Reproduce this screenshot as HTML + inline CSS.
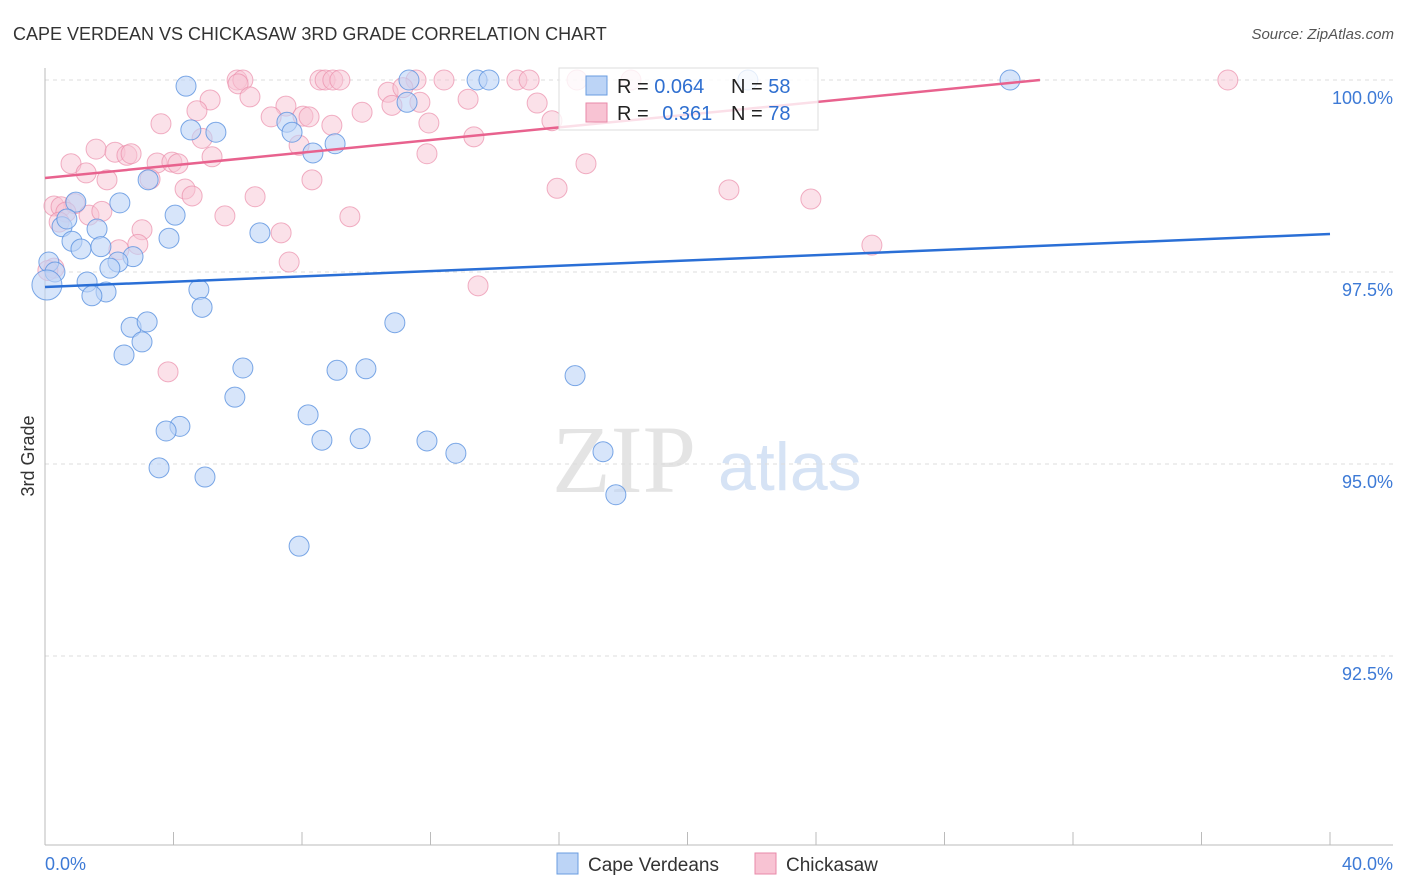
<!DOCTYPE html>
<html><head><meta charset="utf-8"><style>
body{margin:0;background:#fff;font-family:"Liberation Sans",sans-serif}
svg{display:block}
</style></head><body>
<svg id="chart" width="1406" height="892">
<text x="13" y="40" font-size="18" fill="#333">CAPE VERDEAN VS CHICKASAW 3RD GRADE CORRELATION CHART</text>
<text x="1394" y="39" font-size="15" fill="#555" text-anchor="end" font-style="italic">Source: ZipAtlas.com</text>
<text x="34" y="456" font-size="18" fill="#333" text-anchor="middle" transform="rotate(-90 34 456)">3rd Grade</text>
<g>
<text x="552" y="492" font-size="96" font-family="Liberation Serif,serif" fill="#e4e4e4">ZIP</text>
<text x="718" y="490" font-size="68" fill="#d6e3f5">atlas</text>
</g>
<g id="grid"></g><g id="axes"></g><g id="pts"></g><g id="lines"></g>
<g>
<rect x="559" y="68" width="259" height="62" fill="#fff" fill-opacity="0.8" stroke="#ddd"/>
<rect x="586" y="76" width="21" height="19" fill="#bcd4f6" stroke="#6a9de0"/>
<rect x="586" y="103" width="21" height="19" fill="#f8c3d3" stroke="#e88aa8"/>
<text x="617" y="93" font-size="20" fill="#222">R = <tspan fill="#2f6fd0">0.064</tspan></text>
<text x="731" y="93" font-size="20" fill="#222">N = <tspan fill="#2f6fd0">58</tspan></text>
<text x="617" y="120" font-size="20" fill="#222">R = <tspan fill="#2f6fd0" dx="8">0.361</tspan></text>
<text x="731" y="120" font-size="20" fill="#222">N = <tspan fill="#2f6fd0">78</tspan></text>
</g>
<g>
<rect x="557" y="853" width="21" height="21" fill="#bcd4f6" stroke="#6a9de0"/>
<text x="588" y="871" font-size="19" fill="#333">Cape Verdeans</text>
<rect x="755" y="853" width="21" height="21" fill="#f8c3d3" stroke="#e88aa8"/>
<text x="786" y="871" font-size="19" fill="#333">Chickasaw</text>
</g>
</svg>
<script>
const yTicks=[100,97.5,95,92.5];
const yTickLabels=["100.0%","97.5%","95.0%","92.5%"];
const xLabels=["0.0%","40.0%"];
const blueX=[4.39,11.33,13.45,13.82,21.88,30.04,11.27,4.54,5.32,7.53,7.69,8.34,9.03,3.21,0.96,2.33,0.53,0.68,1.62,4.05,0.84,1.12,1.74,3.86,6.69,2.74,2.27,2.02,0.12,0.31,0.06,1.31,1.90,1.46,4.79,4.89,2.68,3.18,3.02,10.89,2.46,6.16,9.09,9.99,16.50,5.91,8.19,4.20,3.77,8.62,9.81,11.89,12.79,17.37,3.55,4.98,17.77,7.91];
const blueY=[99.92,100,100,100,100,100,99.71,99.35,99.32,99.45,99.32,99.05,99.17,98.70,98.41,98.40,98.09,98.19,98.06,98.24,97.90,97.80,97.83,97.94,98.01,97.70,97.63,97.55,97.63,97.50,97.33,97.37,97.24,97.19,97.27,97.04,96.78,96.85,96.59,96.84,96.42,96.25,96.22,96.24,96.15,95.87,95.64,95.49,95.43,95.31,95.33,95.30,95.14,95.16,94.95,94.83,94.60,93.93];
const pinkX=[5.98,6.16,8.56,8.72,8.96,9.18,11.55,12.42,14.69,15.07,16.56,18.24,36.82,6.01,5.14,6.38,4.73,7.50,10.68,11.14,11.67,13.17,15.32,3.61,7.04,8.03,8.22,9.87,10.80,11.95,13.35,8.93,15.78,4.89,7.91,1.59,2.18,2.55,2.68,3.49,3.95,4.14,5.20,11.89,16.84,0.81,1.28,1.93,3.27,8.31,4.36,4.58,6.54,15.94,21.29,23.84,0.28,0.50,0.93,1.37,1.77,5.60,9.49,7.35,3.02,2.30,2.89,25.74,7.60,13.48,3.83,0.28,0.09,0.65,0.44];
const pinkY=[100,100,100,100,100,100,100,100,100,100,100,100,100,99.95,99.74,99.78,99.60,99.66,99.84,99.90,99.71,99.75,99.70,99.43,99.52,99.53,99.52,99.58,99.67,99.44,99.26,99.41,99.47,99.24,99.15,99.10,99.06,99.02,99.04,98.92,98.93,98.91,99.00,99.04,98.91,98.91,98.79,98.70,98.71,98.70,98.58,98.49,98.48,98.59,98.57,98.45,98.36,98.35,98.39,98.24,98.29,98.23,98.22,98.01,98.05,97.79,97.86,97.85,97.63,97.32,96.20,97.55,97.52,98.28,98.15];
const blueTrend=[97.305,97.995];
const pinkTrend=[98.724,100.372];
const NS="http://www.w3.org/2000/svg";
const X=v=>45+v*32.125, Y=v=>80+(100-v)*76.8;
function mk(t,a,p){const e=document.createElementNS(NS,t);for(const k in a)e.setAttribute(k,a[k]);p.appendChild(e);return e;}
const grid=document.getElementById('grid'),axes=document.getElementById('axes'),pts=document.getElementById('pts'),lines=document.getElementById('lines');
yTicks.forEach((t,i)=>{
 const l=mk('line',{x1:45,x2:1393,y1:Y(t),y2:Y(t),stroke:'#ddd','stroke-dasharray':'4 4'},grid);
 
 
 const tx=mk('text',{x:1393,y:Y(t)+24,'font-size':18,fill:'#3d7ad6','text-anchor':'end'},axes);
 tx.textContent=yTickLabels[i];
 
 
});
let a=mk('line',{x1:45,x2:45,y1:68,y2:845,stroke:'#bbb'},axes);


a=mk('line',{x1:45,x2:1393,y1:845,y2:845,stroke:'#bbb'},axes);


for(let i=1;i<=10;i++){const t=mk('line',{x1:X(i*4),x2:X(i*4),y1:832,y2:845,stroke:'#bbb'},axes);
 
 }
let t1=mk('text',{x:45,y:870,'font-size':18,fill:'#3d7ad6'},axes);t1.textContent=xLabels[0];


t1=mk('text',{x:1393,y:870,'font-size':18,fill:'#3d7ad6','text-anchor':'end'},axes);t1.textContent=xLabels[1];


pinkX.forEach((x,i)=>{const c=mk('circle',{cx:X(x),cy:Y(pinkY[i]),r:10,fill:'#f8c3d3','fill-opacity':0.5,stroke:'#eb8fab','stroke-opacity':0.7},pts);
 
 });
blueX.forEach((x,i)=>{const c=mk('circle',{cx:X(x),cy:Y(blueY[i]),r:i==30?15:10,fill:'#bcd4f6','fill-opacity':0.6,stroke:'#5b92e0','stroke-opacity':0.8},pts);
 
 });
let ln=mk('line',{x1:X(0),y1:Y(blueTrend[0]),x2:X(40),y2:Y(blueTrend[1]),stroke:'#2a6fd6','stroke-width':2.5},lines);


const px=(100-pinkTrend[0])/(pinkTrend[1]-pinkTrend[0])*40;
ln=mk('line',{x1:X(0),y1:Y(pinkTrend[0]),x2:X(px),y2:Y(100),stroke:'#e8628e','stroke-width':2.5},lines);


</script>
</body></html>
